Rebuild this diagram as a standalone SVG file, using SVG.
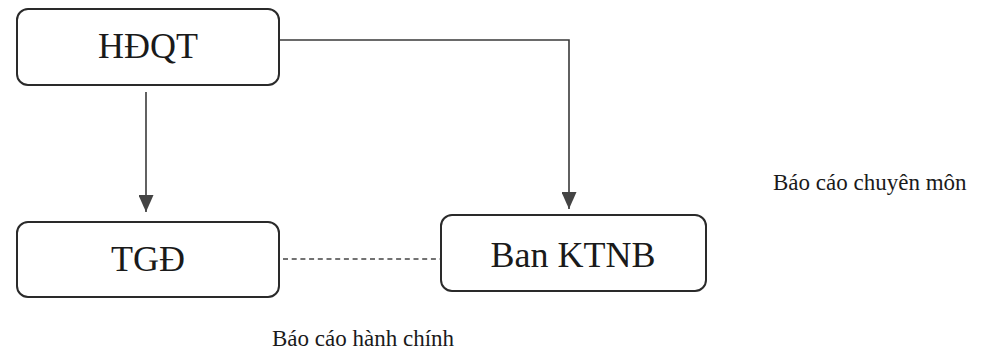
<svg xmlns="http://www.w3.org/2000/svg" width="984" height="350" viewBox="0 0 984 350">
<style>
.box{fill:#fff;stroke:#2a2a2a;stroke-width:2}
.t{font-family:"Liberation Serif","Times New Roman",serif;fill:#1a1a1a}
.big{font-size:36px;text-anchor:middle}
.lbl{font-size:23px}
.ln{fill:none;stroke:#3a3a3a;stroke-width:1.6}
.dash{fill:none;stroke:#444;stroke-width:1.4;stroke-dasharray:5 3.7}
</style>
<defs>
<marker id="ah" markerUnits="userSpaceOnUse" markerWidth="17" markerHeight="15" refX="17" refY="7.5" orient="auto" viewBox="0 0 17 15">
<path d="M0,0 L17,7.5 L0,15 Z" fill="#444"/>
</marker>
</defs>
<rect width="984" height="350" fill="#fff"/>
<g id="connectors">
<line class="ln" x1="146" y1="92" x2="146" y2="212" marker-end="url(#ah)"/>
<polyline class="ln" points="279,40 569,40 569,209" marker-end="url(#ah)"/>
<line class="dash" x1="283" y1="259" x2="441" y2="259"/>
</g>
<g id="node-hdqt">
<rect class="box" x="17" y="9" width="262" height="76" rx="11"/>
<text class="t big" x="148" y="58">HĐQT</text>
</g>
<g id="node-tgd">
<rect class="box" x="17" y="222" width="262" height="75" rx="11"/>
<text class="t big" x="148" y="271">TGĐ</text>
</g>
<g id="node-ktnb">
<rect class="box" x="441" y="215" width="265" height="76" rx="11"/>
<text class="t big" x="573" y="267">Ban KTNB</text>
</g>
<g id="labels">
<text class="t lbl" x="773" y="190">Báo cáo chuyên môn</text>
<text class="t lbl" x="272" y="346">Báo cáo hành chính</text>
</g>
</svg>
